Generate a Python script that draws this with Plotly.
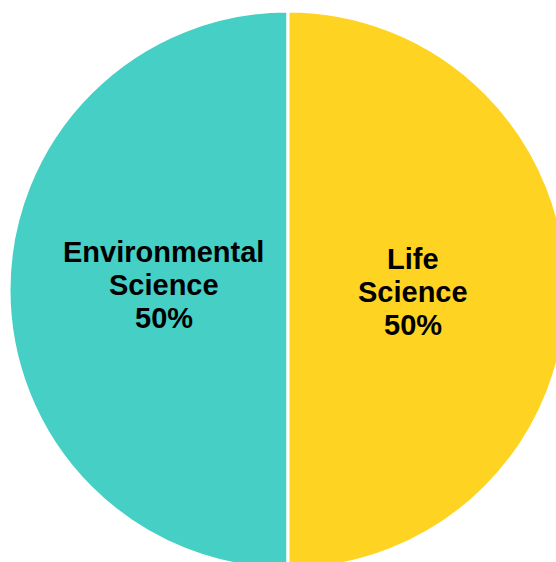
import plotly.graph_objects as go

labels = ["Environmental Science", "Life Science"]
values = [50, 50]
colors = ["#45CFC5", "#FFD322"]

# label anchor (middle line) of each slice, in paper coordinates
label_x = [0.277, 0.724]
label_y = [0.509, 0.497]
line_step = 33  # px between text lines

font_family = "Liberation Sans, Arial, sans-serif"
font_size = 29

fig = go.Figure(go.Pie(
    labels=labels,
    values=values,
    sort=False,
    direction="clockwise",
    rotation=180,
    marker=dict(colors=colors, line=dict(color="white", width=3)),
    textinfo="none",
    hoverinfo="label+percent",
    showlegend=False,
))

total = sum(values)
for lab, val, x, y in zip(labels, values, label_x, label_y):
    lines = lab.split(" ") + [f"{round(100 * val / total)}%"]
    n = len(lines)
    for i, line in enumerate(lines):
        fig.add_annotation(
            x=x, y=y, xref="paper", yref="paper",
            text=f"<b>{line}</b>",
            showarrow=False,
            xanchor="center", yanchor="middle",
            yshift=((n - 1) / 2 - i) * line_step,
            font=dict(family=font_family, size=font_size, color="black"),
        )

fig.update_layout(
    width=567, height=569,
    margin=dict(l=9, r=0, t=11, b=0),
    paper_bgcolor="white",
    plot_bgcolor="white",
)

fig.write_html(
    "out.html",
    config={"displayModeBar": False},
    post_script=(
        "document.body.style.margin='0';"
        "document.body.style.overflow='hidden';"
        "document.documentElement.style.overflow='hidden';"
    ),
)
